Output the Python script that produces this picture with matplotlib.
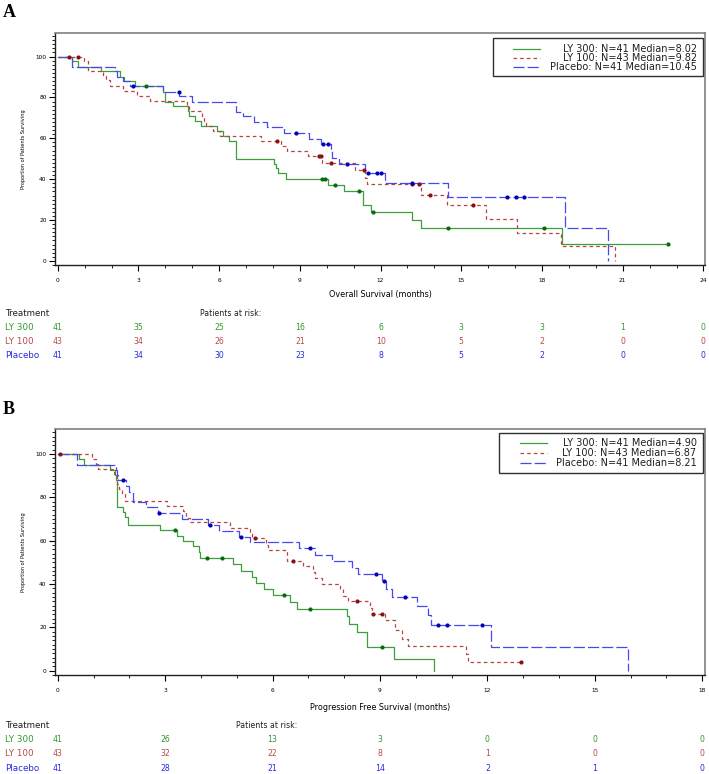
import numpy as np
import matplotlib.pyplot as plt
from matplotlib.patches import Rectangle
from matplotlib.ticker import MultipleLocator
from matplotlib.transforms import blended_transform_factory

plt.rcParams['lines.scale_dashes'] = False
plt.rcParams['font.family'] = 'DejaVu Sans'

arms = ['LY 300', 'LY 100', 'Placebo']
n_pat = [41, 43, 41]
os_median = [8.02, 9.82, 10.45]
pfs_median = [4.90, 6.87, 8.21]

# Overall survival: time of each step (months) and % surviving after it
os_t_ly300 = [0, 0.52, 0.77, 1.6, 2.3, 2.47, 2.88, 3.93, 3.97, 4.0, 4.28, 4.83, 4.87, 5.09,
              5.34, 5.92, 6.14, 6.35, 6.61, 8.03, 8.1, 8.18, 8.47, 10.04, 10.63, 11.33,
              11.36, 11.63, 13.15, 13.49, 18.75]
os_s_ly300 = [100, 97.6, 95.1, 92.7, 90.2, 87.8, 85.4, 82.9, 80.5, 78.0, 75.6, 73.2, 70.7, 68.3,
              65.9, 63.4, 61.0, 58.5, 50.1, 47.6, 45.5, 43.1, 40.3, 37.3, 34.2, 30.5,
              27.6, 24.0, 20.1, 16.1, 8.1]
os_c_ly300 = [3.3, 9.83, 9.95, 10.32, 11.2, 11.73, 14.5, 18.09, 22.67]

os_t_ly100 = [0, 0.96, 1.14, 1.7, 1.8, 1.95, 2.44, 2.94, 3.44, 4.82, 4.88, 5.36, 5.45, 5.5,
              5.79, 6.04, 7.57, 8.3, 8.52, 9.29, 9.83, 11.05, 11.42, 11.48, 13.5, 14.48,
              15.92, 17.06, 18.71, 20.7]
os_s_ly100 = [100, 97.7, 93.0, 90.7, 88.3, 85.7, 83.3, 80.5, 78.4, 75.8, 73.4, 70.9, 68.3, 65.9,
              63.4, 61.0, 58.5, 56.0, 53.6, 51.2, 48.1, 44.7, 40.7, 37.4, 32.5, 27.2,
              20.3, 13.8, 7.3, 0]
os_c_ly100 = [0.42, 0.74, 8.15, 9.7, 9.77, 10.14, 11.38, 13.15, 13.44, 13.84, 15.45]

os_t_pbo = [0, 0.52, 2.13, 2.2, 2.44, 2.67, 3.91, 4.52, 4.99, 6.61, 6.87, 7.28, 7.78, 8.42,
            9.33, 9.8, 10.14, 10.2, 10.45, 11.42, 12.16, 14.49, 18.84, 20.47]
os_s_pbo = [100, 95.1, 92.7, 90.2, 87.8, 85.4, 82.9, 80.5, 78.0, 73.0, 70.7, 68.0, 65.4, 62.5,
            59.5, 57.0, 53.7, 50.4, 47.2, 43.1, 37.9, 31.4, 16.1, 0]
os_c_pbo = [2.78, 4.49, 8.87, 9.86, 10.06, 10.76, 11.54, 11.85, 12.0, 13.15, 16.69, 17.04, 17.33]

# Progression free survival
pfs_t_ly300 = [0, 0.6, 0.74, 1.46, 1.6, 1.63, 1.65, 1.67, 1.83, 1.89, 1.95, 2.86, 3.34, 3.49,
               3.79, 3.94, 3.97, 4.9, 5.13, 5.43, 5.53, 5.77, 6.02, 6.5, 6.67, 8.07, 8.13,
               8.35, 8.65, 9.4, 10.5]
pfs_s_ly300 = [100, 97.6, 95.1, 92.7, 90.2, 87.8, 80.5, 75.6, 73.2, 70.7, 67.4, 65.1, 62.3, 59.8,
               57.3, 54.9, 51.8, 49.0, 46.0, 43.3, 40.4, 37.5, 34.7, 31.5, 28.5, 25.0, 21.5,
               18.0, 10.8, 5.6, 0]
pfs_c_ly300 = [3.29, 4.18, 4.59, 6.32, 7.04, 9.05]

pfs_t_ly100 = [0, 0.97, 1.06, 1.13, 1.58, 1.65, 1.72, 1.79, 1.88, 3.04, 3.5, 3.57, 3.69, 4.8,
               5.37, 5.43, 5.83, 5.88, 6.41, 6.86, 7.13, 7.2, 7.37, 7.88, 7.97, 8.11, 8.72,
               8.79, 9.15, 9.43, 9.62, 9.79, 11.39, 11.47]
pfs_s_ly100 = [100, 97.7, 95.3, 93.0, 90.7, 86.0, 83.7, 81.4, 78.1, 75.8, 73.5, 70.6, 68.5, 66.0,
               63.5, 61.0, 58.2, 55.8, 50.8, 48.1, 45.4, 42.8, 40.0, 37.5, 34.6, 32.0, 29.0,
               26.2, 23.2, 18.9, 14.8, 11.3, 7.9, 3.8]
pfs_c_ly100 = [0.07, 5.5, 6.58, 8.37, 8.82, 9.05, 12.93]

pfs_t_pbo = [0, 0.53, 1.63, 1.66, 1.69, 1.9, 1.99, 2.09, 2.46, 2.81, 3.48, 4.2, 4.5, 5.07,
             5.37, 6.74, 7.2, 7.67, 8.21, 8.38, 9.07, 9.18, 9.35, 10.03, 10.35, 10.42,
             12.1, 15.93]
pfs_s_pbo = [100, 95.1, 92.7, 90.2, 87.8, 85.2, 82.6, 78.0, 75.4, 72.7, 70.0, 67.3, 64.5, 61.8,
             59.3, 56.5, 53.5, 50.5, 47.5, 44.4, 41.2, 37.7, 34.1, 30.0, 25.5, 21.2,
             10.7, 0]
pfs_c_pbo = [1.83, 2.84, 4.25, 5.13, 7.04, 8.89, 9.12, 9.7, 10.63, 10.86, 11.86]

# numbers at risk
os_risk_times = [0, 3, 6, 9, 12, 15, 18, 21, 24]
os_risk_ly300 = [41, 35, 25, 16, 6, 3, 3, 1, 0]
os_risk_ly100 = [43, 34, 26, 21, 10, 5, 2, 0, 0]
os_risk_pbo = [41, 34, 30, 23, 8, 5, 2, 0, 0]

pfs_risk_times = [0, 3, 6, 9, 12, 15, 18]
pfs_risk_ly300 = [41, 26, 13, 3, 0, 0, 0]
pfs_risk_ly100 = [43, 32, 22, 8, 1, 0, 0]
pfs_risk_pbo = [41, 28, 21, 14, 2, 1, 0]

line_col = ['#3c9f3c', '#b84444', '#4848ee']
mark_col = ['#0a6a0a', '#8a1010', '#0000b8']
text_col = ['#2f9a2f', '#b84a4a', '#2a2ae0']
dashes = [None, (2.6, 2.2), (8, 2.2)]


def draw_km(ax, t, s, cens, i):
    t = np.array(t)
    s = np.array(s)
    end = max(t[-1], max(cens))
    tt = np.append(t, end)
    ss = np.append(s, s[-1])
    ln, = ax.step(tt, ss, where='post', color=line_col[i], lw=0.9)
    if dashes[i] is not None:
        ln.set_dashes(dashes[i])
    idx = np.searchsorted(t, cens, side='right') - 1
    ax.plot(cens, s[idx], 'o', ms=2.0, color=mark_col[i], mec=mark_col[i], zorder=4)
    return ln


def style_axes(ax, xmax, xlim):
    ax.set_xlim(xlim)
    ax.set_ylim(-2, 111.5)
    ax.set_xticks(np.arange(0, xmax + 1, 3))
    ax.xaxis.set_minor_locator(MultipleLocator(1))
    ax.set_yticks([0, 20, 40, 60, 80, 100])
    ax.yaxis.set_minor_locator(MultipleLocator(2))
    ax.tick_params(which='major', length=4, width=0.8, labelsize=4.2, pad=5)
    ax.tick_params(axis='y', which='major', pad=2)
    ax.tick_params(which='minor', length=2, width=0.6)
    for sp in ['top', 'right']:
        ax.spines[sp].set_color('#808080')
        ax.spines[sp].set_linewidth(1.2)
    for sp in ['left', 'bottom']:
        ax.spines[sp].set_color('#202020')
        ax.spines[sp].set_linewidth(1.0)
    ax.set_ylabel('Proportion of Patients Surviving', fontsize=3.6)
    ax.yaxis.set_label_coords(-0.045, 0.5)


def draw_legend(ax, labels, box, rows, line_x, text_x):
    ax.add_patch(Rectangle((box[0], box[1]), box[2] - box[0], box[3] - box[1],
                           transform=ax.transAxes, fill=False, ec='#303030', lw=1.0, zorder=5))
    for i, lab in enumerate(labels):
        ln, = ax.plot(line_x, [rows[i], rows[i]], transform=ax.transAxes,
                      color=line_col[i], lw=0.9, zorder=6)
        if dashes[i] is not None:
            ln.set_dashes(dashes[i])
        ax.text(text_x, rows[i], lab, transform=ax.transAxes, ha='right', va='center',
                fontsize=7, color='#202020', zorder=6)


def draw_risk(fig, ax, times, risks, ys, patients_x):
    tr = blended_transform_factory(ax.transData, fig.transFigure)
    fig.text(0.007, ys[0], 'Treatment', fontsize=6.3, va='center', color='#202020')
    fig.text(patients_x, ys[0], 'Patients at risk:', fontsize=5.6, va='center', color='#202020')
    for i, r in enumerate(risks):
        fig.text(0.007, ys[i + 1], arms[i], fontsize=6.3, va='center', color=text_col[i])
        for tm, n in zip(times, r):
            ax.text(tm, ys[i + 1], str(n), transform=tr, ha='center', va='center',
                    fontsize=5.6, color=text_col[i], clip_on=False)


fig = plt.figure(figsize=(7.09, 7.74), dpi=100)

# A: overall survival
ax1 = fig.add_axes([0.0776, 0.6576, 0.9168, 0.2997])
draw_km(ax1, os_t_ly300, os_s_ly300, os_c_ly300, 0)
draw_km(ax1, os_t_ly100, os_s_ly100, os_c_ly100, 1)
draw_km(ax1, os_t_pbo, os_s_pbo, os_c_pbo, 2)
style_axes(ax1, 24, (-0.1, 24.06))
fig.text(0.536, 1 - 294 / 774, 'Overall Survival (months)', ha='center', va='center', fontsize=5.8)
os_labels = ['%s: N=%d Median=%.2f' % (a, n, m) for a, n, m in zip(arms, n_pat, os_median)]
draw_legend(ax1, os_labels, (0.674, 0.815, 0.997, 0.978), [0.931, 0.893, 0.853],
            [0.705, 0.746], 0.988)
draw_risk(fig, ax1, os_risk_times, [os_risk_ly300, os_risk_ly100, os_risk_pbo],
          [1 - 313.5 / 774, 1 - 327 / 774, 1 - 341 / 774, 1 - 355 / 774], 0.282)
fig.text(0.004, 1 - 12.5 / 774, 'A', fontsize=13, fontweight='bold', family='Liberation Serif',
         va='center')

# B: progression free survival
ax2 = fig.add_axes([0.0776, 0.1279, 0.9168, 0.3178])
draw_km(ax2, pfs_t_ly300, pfs_s_ly300, pfs_c_ly300, 0)
draw_km(ax2, pfs_t_ly100, pfs_s_ly100, pfs_c_ly100, 1)
draw_km(ax2, pfs_t_pbo, pfs_s_pbo, pfs_c_pbo, 2)
style_axes(ax2, 18, (-0.075, 18.08))
fig.text(0.536, 1 - 707 / 774, 'Progression Free Survival (months)', ha='center', va='center',
         fontsize=5.8)
pfs_labels = ['%s: N=%d Median=%.2f' % (a, n, m) for a, n, m in zip(arms, n_pat, pfs_median)]
draw_legend(ax2, pfs_labels, (0.683, 0.821, 0.997, 0.984), [0.944, 0.903, 0.860],
            [0.715, 0.757], 0.987)
draw_risk(fig, ax2, pfs_risk_times, [pfs_risk_ly300, pfs_risk_ly100, pfs_risk_pbo],
          [1 - 725.7 / 774, 1 - 739.5 / 774, 1 - 754 / 774, 1 - 768.5 / 774], 0.333)
fig.text(0.004, 1 - 409.5 / 774, 'B', fontsize=13, fontweight='bold', family='Liberation Serif',
         va='center')

fig.savefig('out.png', dpi=100)
